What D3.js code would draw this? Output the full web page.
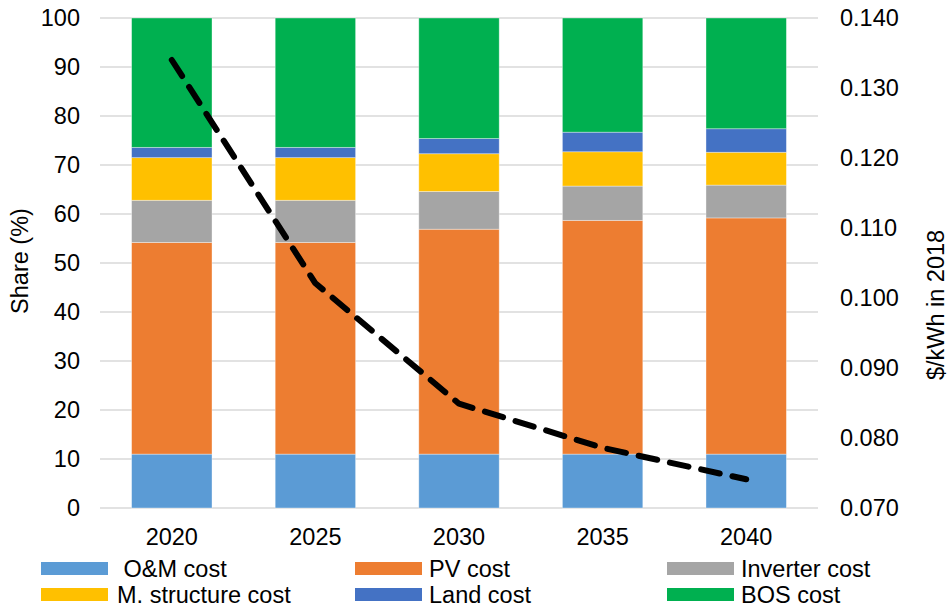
<!DOCTYPE html>
<html>
<head>
<meta charset="utf-8">
<script src="https://cdn.jsdelivr.net/npm/d3@7/dist/d3.min.js"></script>
<style>
  html, body { margin: 0; padding: 0; background: #fff; }
  svg { display: block; font-family: "Liberation Sans", Arial, sans-serif; }
</style>
</head>
<body>
<svg id="chart" width="951" height="607"></svg>
<script>
// Cost share by component (%) for each year
const years = ["2020", "2025", "2030", "2035", "2040"];
const omCost = [11.0, 11.0, 11.0, 11.0, 11.0];
const pvCost = [43.2, 43.2, 45.9, 47.7, 48.2];
const inverterCost = [8.6, 8.6, 7.7, 7.0, 6.7];
const structureCost = [8.7, 8.7, 7.7, 7.0, 6.7];
const landCost = [2.1, 2.1, 3.1, 4.0, 4.8];
const bosCost = [26.4, 26.4, 24.6, 23.3, 22.6];

// Levelised cost, $/kWh in 2018
const lcoe = [0.134, 0.1021, 0.0849, 0.0786, 0.0741];

const leftTicks = [0, 10, 20, 30, 40, 50, 60, 70, 80, 90, 100];
const rightTicks = [0.07, 0.08, 0.09, 0.10, 0.11, 0.12, 0.13, 0.14];

const seriesNames = ["O&M cost", "PV cost", "Inverter cost", "M. structure cost", "Land cost", "BOS cost"];
const seriesValues = [omCost, pvCost, inverterCost, structureCost, landCost, bosCost];
const seriesColors = ["#5B9BD5", "#ED7D31", "#A5A5A5", "#FFC000", "#4472C4", "#00B050"];

const svg = d3.select("#chart");
const plotLeft = 100, plotRight = 818, plotTop = 18, plotBottom = 508;

const x = d3.scaleBand().domain(years).range([plotLeft, plotRight])
  .paddingInner(0.44).paddingOuter(0.22);
const y = d3.scaleLinear().domain([0, 100]).range([plotBottom, plotTop]);
const y2 = d3.scaleLinear().domain([0.07, 0.14]).range([plotBottom, plotTop]);

// gridlines
svg.append("g").selectAll("line").data(leftTicks).join("line")
  .attr("x1", plotLeft).attr("x2", plotRight)
  .attr("y1", d => y(d)).attr("y2", d => y(d))
  .attr("stroke", "#d9d9d9").attr("stroke-width", 1.5);

// stacked bars
const rows = years.map((yr, i) => {
  const r = { year: yr };
  seriesNames.forEach((n, k) => r[n] = seriesValues[k][i]);
  return r;
});
const stacked = d3.stack().keys(seriesNames)(rows);

svg.append("g").selectAll("g").data(stacked).join("g")
  .attr("fill", (d, k) => seriesColors[k])
  .selectAll("rect").data(d => d).join("rect")
  .attr("x", d => x(d.data.year))
  .attr("width", x.bandwidth())
  .attr("y", d => y(d[1]))
  .attr("height", d => y(d[0]) - y(d[1]))
  .attr("stroke", "rgba(255,255,255,0.45)")
  .attr("stroke-width", 0.8);

// left axis
const axisFont = "23.5px";
svg.append("g").selectAll("text").data(leftTicks).join("text")
  .attr("x", 80).attr("y", d => y(d)).attr("dy", "0.35em")
  .attr("text-anchor", "end").attr("font-size", axisFont).attr("fill", "#000")
  .text(d => d);

// right axis
svg.append("g").selectAll("text").data(rightTicks).join("text")
  .attr("x", 840).attr("y", d => y2(d)).attr("dy", "0.35em")
  .attr("text-anchor", "start").attr("font-size", axisFont).attr("fill", "#000")
  .text(d => d3.format(".3f")(d));

// x axis labels
svg.append("g").selectAll("text").data(years).join("text")
  .attr("x", d => x(d) + x.bandwidth() / 2).attr("y", 537).attr("dy", "0.35em")
  .attr("text-anchor", "middle").attr("font-size", axisFont).attr("fill", "#000")
  .text(d => d);

// axis titles
svg.append("text")
  .attr("transform", "translate(20,261) rotate(-90)")
  .attr("text-anchor", "middle").attr("dy", "0.35em")
  .attr("font-size", axisFont).attr("fill", "#000")
  .text("Share (%)");
svg.append("text")
  .attr("transform", "translate(936,305) rotate(-90)")
  .attr("text-anchor", "middle").attr("dy", "0.35em")
  .attr("font-size", axisFont).attr("fill", "#000")
  .text("$/kWh in 2018");

// cost line on secondary axis
const line = d3.line()
  .x((d, i) => x(years[i]) + x.bandwidth() / 2)
  .y(d => y2(d));
svg.append("path").datum(lcoe)
  .attr("d", line)
  .attr("fill", "none").attr("stroke", "#000")
  .attr("stroke-width", 6)
  .attr("stroke-dasharray", "19,13")
  .attr("stroke-linecap", "round")
  .attr("stroke-linejoin", "round");

// legend
const legendItems = [
  { name: " O&M cost", color: seriesColors[0], sx: 41, tx: 117, row: 0 },
  { name: "PV cost", color: seriesColors[1], sx: 355, tx: 429, row: 0 },
  { name: "Inverter cost", color: seriesColors[2], sx: 667, tx: 741, row: 0 },
  { name: "M. structure cost", color: seriesColors[3], sx: 41, tx: 117, row: 1 },
  { name: "Land cost", color: seriesColors[4], sx: 355, tx: 429, row: 1 },
  { name: "BOS cost", color: seriesColors[5], sx: 667, tx: 741, row: 1 }
];
const rowY = [569, 595];
const lg = svg.append("g").selectAll("g").data(legendItems).join("g");
lg.append("rect")
  .attr("x", d => d.sx).attr("y", d => rowY[d.row] - 7)
  .attr("width", 67).attr("height", 13)
  .attr("fill", d => d.color);
lg.append("text")
  .attr("x", d => d.tx).attr("y", d => rowY[d.row]).attr("dy", "0.35em")
  .attr("font-size", axisFont).attr("fill", "#000")
  .style("white-space", "pre")
  .text(d => d.name);
</script>
</body>
</html>
